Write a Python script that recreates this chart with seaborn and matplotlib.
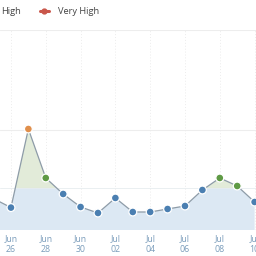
import matplotlib
matplotlib.use("Agg")
import matplotlib.pyplot as plt
import seaborn as sns
import numpy as np
import pandas as pd
from matplotlib.lines import Line2D

# ---- data ----
dates = ["2023-06-25", "2023-06-26", "2023-06-27", "2023-06-28", "2023-06-29",
         "2023-06-30", "2023-07-01", "2023-07-02", "2023-07-03", "2023-07-04",
         "2023-07-05", "2023-07-06", "2023-07-07", "2023-07-08", "2023-07-09",
         "2023-07-10"]
values = [1.57, 1.12, 5.05, 2.6, 1.8, 1.15, 0.85, 1.6, 0.9, 0.9,
          1.05, 1.2, 2.0, 2.6, 2.2, 1.4]
tick_dates = ["2023-06-26", "2023-06-28", "2023-06-30", "2023-07-02",
              "2023-07-04", "2023-07-06", "2023-07-08", "2023-07-10"]
tick_labels = ["Jun\n26", "Jun\n28", "Jun\n30", "Jul\n02",
               "Jul\n04", "Jul\n06", "Jul\n08", "Jul\n10"]
legend_labels = ["High", "Very High"]
high_level = 2.1
very_high_level = 5.0

df = pd.DataFrame({"date": pd.to_datetime(dates), "value": values})
df["level"] = np.where(df["value"] >= very_high_level, "Very High",
                       np.where(df["value"] > high_level, "High", "Normal"))

sns.set_theme(style="white")
plt.rcParams["font.family"] = ["Open Sans", "DejaVu Sans"]

fig = plt.figure(figsize=(2.56, 2.56), dpi=100)
ax = fig.add_axes([0.0, 0.1016, 1.0, 0.7813])

x = df["date"]
v = df["value"].to_numpy()

# fills
ax.fill_between(x, 0, v, color="#dce8f3", lw=0, zorder=1)
ax.fill_between(x, high_level, v, where=v > high_level, interpolate=True,
                color="#e2ebd9", lw=0, zorder=1.1)

# grid
for yv in [5, 10]:
    ax.axhline(yv, color="#ededed", lw=0.8, zorder=0.5)
ax.axhline(high_level, color="#e6ecef", lw=0.6, zorder=1.2)
for td in pd.to_datetime(tick_dates):
    ax.axvline(td, color="#ececec", lw=0.7, ls=(0, (1, 2)), zorder=0.6)

# line
sns.lineplot(data=df, x="date", y="value", ax=ax, color="#8e9ca8", lw=0.9,
             zorder=2, legend=False)
# points
palette = {"Normal": "#4b7fb1", "High": "#5f9a45", "Very High": "#e08f4c"}
sns.scatterplot(data=df, x="date", y="value", hue="level", palette=palette,
                ax=ax, s=32, edgecolor="white", linewidth=0.9, zorder=3,
                legend=False)

x0 = pd.Timestamp("2023-06-26")
ax.set_xlim(x0 - pd.Timedelta(days=0.63), x0 + pd.Timedelta(days=14.08))
ax.set_ylim(0, 10)
ax.set_yticks([])
ax.set_xticks(pd.to_datetime(tick_dates))
ax.set_xticklabels(tick_labels, fontsize=6.3, color="#7b9dbb", linespacing=1.3)
ax.tick_params(axis="x", length=0, pad=3)
ax.set_xlabel("")
ax.set_ylabel("")
for s in ax.spines.values():
    s.set_visible(False)

# legend (partially outside on the left, like the reference crop)
handles = [Line2D([0], [0], color="#5f9a45", lw=2.2, marker="o", ms=3.5),
           Line2D([0], [0], color="#c9564a", lw=2.2, marker="o", ms=3.5)]
fig.legend(handles, legend_labels, loc="center left",
           bbox_to_anchor=(-0.1, 0.955), ncol=2, frameon=False,
           fontsize=6.7, labelcolor="#444444", handlelength=1.0,
           handletextpad=1.0, columnspacing=2.0)

fig.savefig("out.png", dpi=100)
